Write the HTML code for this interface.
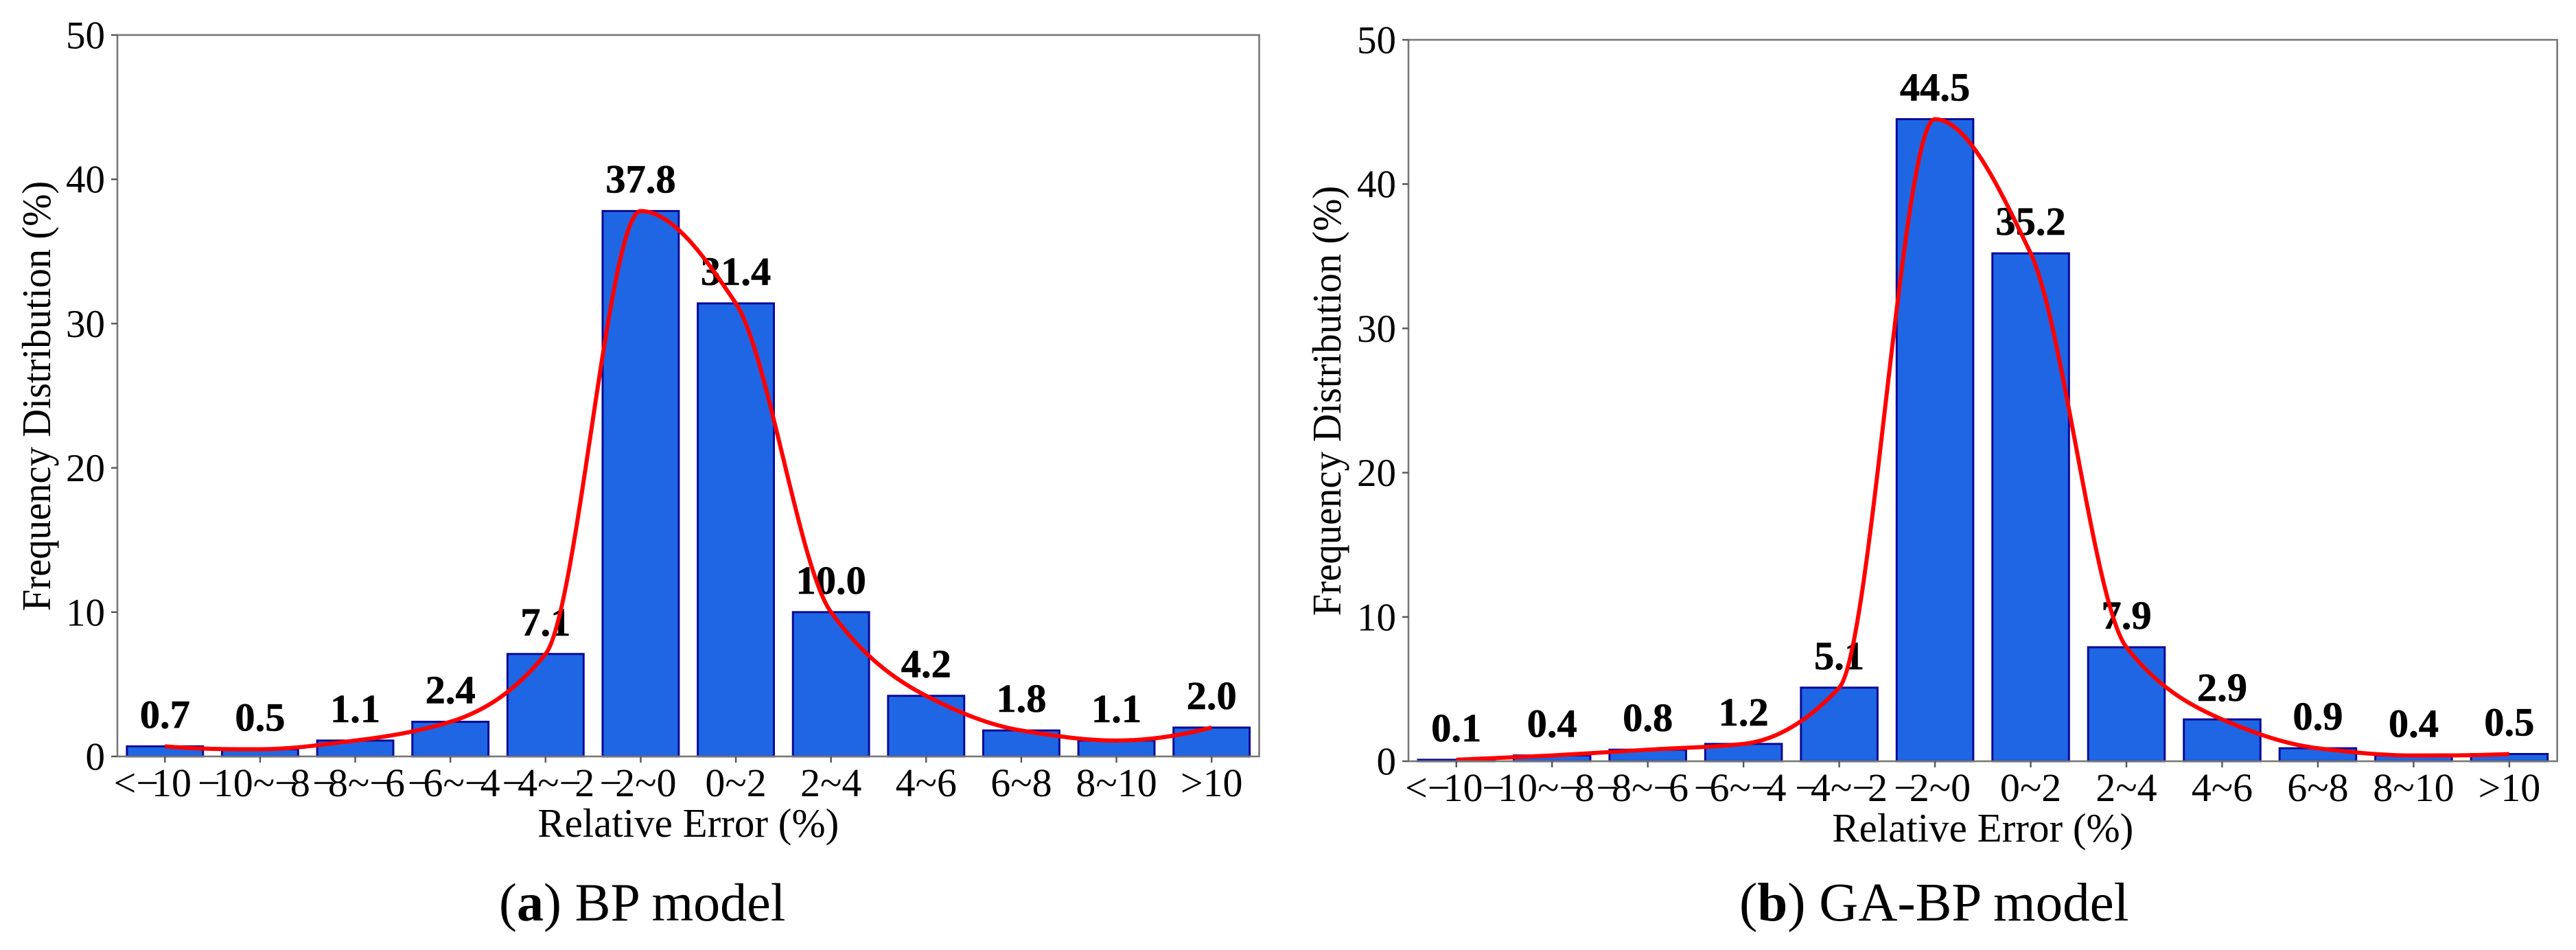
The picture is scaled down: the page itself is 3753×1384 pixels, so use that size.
<!DOCTYPE html>
<html lang="en">
<head>
<meta charset="utf-8">
<title>Relative error frequency distribution: BP and GA-BP models</title>
<style>
  html, body { margin: 0; padding: 0; background: #fff; }
  svg { display: block; }
  text { font-family: "Liberation Serif", "Times New Roman", serif; fill: #000; }
</style>
</head>
<body>
<svg id="figure" xmlns="http://www.w3.org/2000/svg" width="3753" height="1384" viewBox="0 0 3753 1384">
  <rect width="3753" height="1384" fill="#ffffff"/>
  <text x="727" y="1341" font-size="78">(<tspan font-weight="bold">a</tspan>) BP model</text>
  <text x="2534" y="1341" font-size="79">(<tspan font-weight="bold">b</tspan>) GA-BP model</text>
</svg>
<script>
const categories = ["<\u221210", "\u221210~\u22128", "\u22128~\u22126", "\u22126~\u22124", "\u22124~\u22122", "\u22122~0", "0~2", "2~4", "4~6", "6~8", "8~10", ">10"];
const bpValues = [0.7, 0.5, 1.1, 2.4, 7.1, 37.8, 31.4, 10.0, 4.2, 1.8, 1.1, 2.0];
const gaBpValues = [0.1, 0.4, 0.8, 1.2, 5.1, 44.5, 35.2, 7.9, 2.9, 0.9, 0.4, 0.5];
const yTickValues = [0, 10, 20, 30, 40, 50];
const yTitleText = "Frequency Distribution (%)";
const xTitleText = "Relative Error (%)";

const SVG_NS = "http://www.w3.org/2000/svg";
const figure = document.getElementById("figure");

function mk(parent, tag, attrs, text) {
  const el = document.createElementNS(SVG_NS, tag);
  for (const k in attrs) el.setAttribute(k, attrs[k]);
  if (text !== undefined) el.textContent = text;
  parent.appendChild(el);
  return el;
}

/* Monotone cubic (PCHIP) slopes for the smoothed distribution curve */
function pchipSlopes(v) {
  const n = v.length, d = [], m = new Array(n).fill(0);
  for (let i = 0; i < n - 1; i++) d.push(v[i + 1] - v[i]);
  for (let i = 1; i < n - 1; i++) {
    if (d[i - 1] * d[i] > 0) m[i] = 2 / (1 / d[i - 1] + 1 / d[i]);
  }
  function edge(a, b) {
    let s = (3 * a - b) / 2;
    if (s * a <= 0) s = 0;
    else if (a * b < 0 && Math.abs(s) > 3 * Math.abs(a)) s = 3 * a;
    return s;
  }
  m[0] = edge(d[0], d[1]);
  m[n - 1] = edge(d[n - 2], d[n - 3]);
  return m;
}

/* Minus signs sit tight against their neighbours in the tick labels */
function fillTickLabel(el, label) {
  label.split(/(\u2212)/).forEach(part => {
    if (part === "\u2212") mk(el, "tspan", { "letter-spacing": -10 }, part);
    else if (part) el.appendChild(document.createTextNode(part));
  });
}

function drawChart(prefix, values, box) {
  const sx = i => box.left + (i + 0.5) * (box.right - box.left) / categories.length;
  const sy = v => box.bottom - v * (box.bottom - box.top) / 50;
  const step = (box.right - box.left) / categories.length;
  const barW = step * 0.8;

  const g = mk(figure, "g", {});
  
  

  /* bars */
  values.forEach((v, i) => {
    const bar = mk(g, "rect", {
      x: sx(i) - barW / 2, y: sy(v), width: barW, height: sy(0) - sy(v),
      fill: "#1f66e5", stroke: "#0a0a96", "stroke-width": 3
    });
    
    
  });

  /* value labels */
  values.forEach((v, i) => {
    const label = mk(g, "text", {
      x: sx(i), y: sy(v) - 27,
      "text-anchor": "middle", "font-size": 58.5, "font-weight": "bold",
      stroke: "#000", "stroke-width": 0.6
    }, v.toFixed(1));
    
    
  });

  /* smoothed curve through the values */
  const slopes = pchipSlopes(values);
  let d = "M" + sx(0) + " " + sy(values[0]);
  for (let i = 0; i < values.length - 1; i++) {
    d += " C" + (sx(i) + step / 3) + " " + sy(values[i] + slopes[i] / 3) + " " +
         (sx(i + 1) - step / 3) + " " + sy(values[i + 1] - slopes[i + 1] / 3) + " " +
         sx(i + 1) + " " + sy(values[i + 1]);
  }
  const curve = mk(g, "path", { d: d, fill: "none", stroke: "#ff0000", "stroke-width": 6, "stroke-linejoin": "round" });
  
  

  /* frame */
  const frame = mk(g, "rect", {
    x: box.left, y: box.top, width: box.right - box.left, height: box.bottom - box.top,
    fill: "none", stroke: "#777777", "stroke-width": 2.6
  });
  
  

  /* y axis */
  yTickValues.forEach(v => {
    const tick = mk(g, "line", { x1: box.left - 9, x2: box.left, y1: sy(v), y2: sy(v), stroke: "#555555", "stroke-width": 2.4 });
    
    
    const tl = mk(g, "text", {
      x: box.left - 18, y: sy(v) + 19.5,
      "text-anchor": "end", "font-size": 57
    }, String(v));
    
    
  });

  /* x axis */
  categories.forEach((c, i) => {
    const tick = mk(g, "line", { x1: sx(i), x2: sx(i), y1: box.bottom, y2: box.bottom + 9, stroke: "#555555", "stroke-width": 2.4 });
    
    
    const tl = mk(g, "text", {
      x: sx(i) + (box.labelShift[i] || 0), y: box.bottom + 58,
      "text-anchor": "middle", "font-size": 58
    });
    fillTickLabel(tl, c);
    
    
  });

  /* axis titles */
  const xt = mk(g, "text", {
    x: (box.left + box.right) / 2, y: box.bottom + 117,
    "text-anchor": "middle", "font-size": 59
  }, xTitleText);
  
  

  const yt = mk(g, "text", {
    transform: "translate(" + box.yTitleX + "," + (box.bottom - 525) + ") scale(1.05,1) rotate(-90)",
    "text-anchor": "middle", "font-size": 56.7
  }, yTitleText);
  
  
}

drawChart("bp", bpValues, { left: 171, right: 1834.5, top: 51, bottom: 1102, yTitleX: 73, labelShift: [-18, -9, 5, 5, 4, -4] });
drawChart("ga-bp", gaBpValues, { left: 2052, right: 3725.6, top: 58, bottom: 1109, yTitleX: 1953, labelShift: [-18, -20, -8, -5, 3, -4] });
</script>
</body>
</html>
